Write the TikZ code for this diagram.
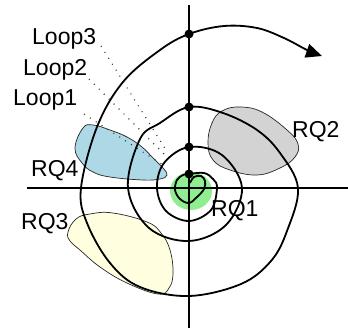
\documentclass[tikz,border=0pt]{standalone}
\usepackage{fontspec}
\setmainfont{Liberation Sans}
\usetikzlibrary{arrows.meta}
\definecolor{rqblue}{HTML}{ADD8E6}
\definecolor{rqgray}{HTML}{D3D3D3}
\definecolor{rqyellow}{HTML}{FFFFE0}
\definecolor{rqgreen}{HTML}{90EE90}
\begin{document}
\begin{tikzpicture}[x=1pt,y=-1pt,
  lbl/.style={anchor=base west,inner sep=0pt,font=\fontsize{23}{27}\selectfont},
  blob/.style={draw=black!85,line width=0.7pt},
  axisline/.style={line width=1.5pt},
  spiralline/.style={line width=1.8pt},
  dotnode/.style={circle,fill=black,inner sep=0pt,minimum size=9pt},
  guide/.style={line width=1.1pt,dash pattern=on 1pt off 6pt,black!80}]
\useasboundingbox (0,0) rectangle (348,329);
% regions
\draw[blob,fill=rqblue] plot[smooth cycle,tension=0.7] coordinates {
 (75,148) (83,128) (93,125) (110,130) (127,137) (142,147) (153,158) (163,168)
 (167,175) (160,179) (143,180) (110,177) (93,172) (82,163)};
\draw[blob,fill=rqgray] plot[smooth cycle,tension=0.7] coordinates {
 (208,143) (212,123) (222,111) (240,107) (262,112) (287,130) (298,144)
 (295,157) (280,168) (257,175) (230,170) (213,160)};
\draw[blob,fill=rqyellow] plot[smooth cycle,tension=0.7] coordinates {
 (68,232) (76,219) (90,214) (113,213) (147,222) (161,233) (170,250)
 (173,273) (169,288) (158,294) (127,283) (100,267) (80,250) (70,241)};
\fill[rqgreen] (191,191) ellipse [x radius=21, y radius=19];
% axes
\coordinate (xl) at (27,188);
\coordinate (xr) at (348,188);
\coordinate (yt) at (189,5);
\coordinate (yb) at (189,328);
\draw[axisline] (xl) -- (xr);
\draw[axisline] (yt) -- (yb);
% spiral
\draw[spiralline,-{Triangle[length=16pt,width=14pt]}] plot[smooth,tension=0.6] coordinates {
 (190,183) (194,177) (201,176) (205,181) (204,189) (197,197) (189,203)
 (180,199) (175,190) (177,180) (183,175) (189,174)
 (204,173) (213,179) (217,188) (211,210) (189,221) (166,211) (157,188) (164,163) (189,147)
 (222,155) (242,188) (226,225) (189,241) (149,228) (128,188) (140,139) (160,123) (189,107)
 (223,113) (257,130) (280,153) (298,188) (287,231) (271,261) (241,284) (189,296)
 (140,287) (110,263) (87,223) (81,188) (97,127) (123,82) (160,50) (189,34)
 (224,26) (257,28) (284,38) (307,50) (322,56)};
% loop start dots
\node[dotnode] (d1) at (189,174) {};
\node[dotnode] (d2) at (189,147) {};
\node[dotnode] (d3) at (189,107) {};
\node[dotnode] (d4) at (189,34) {};
% labels
\node[lbl] (loop3) at (32,45) {Loop3};
\node[lbl] (loop2) at (23,76) {Loop2};
\node[lbl] (loop1) at (13,106) {Loop1};
\node[lbl] (rq4) at (31,176) {RQ4};
\node[lbl] (rq2) at (292,137) {RQ2};
\node[lbl] (rq3) at (21,229) {RQ3};
\node[lbl] (rq1) at (211,216) {RQ1};
% guide lines
\coordinate (s3) at (101,46);
\coordinate (e3) at (166,150);
\coordinate (s2) at (89,79);
\coordinate (e2) at (165,155);
\coordinate (s1) at (84,114);
\coordinate (e1) at (163,165);
\draw[guide] (s3) -- (e3);
\draw[guide] (s2) -- (e2);
\draw[guide] (s1) -- (e1);
\end{tikzpicture}
\end{document}
